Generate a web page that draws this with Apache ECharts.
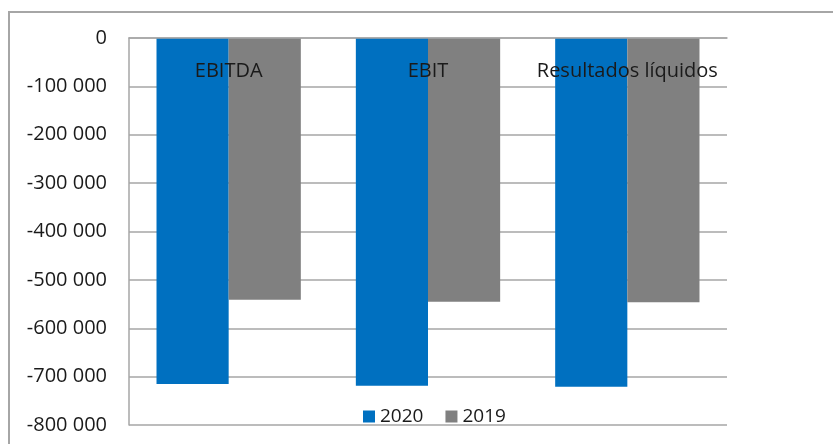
<!DOCTYPE html>
<html>
<head>
<meta charset="utf-8">
<script src="https://cdn.jsdelivr.net/npm/echarts@6/dist/echarts.min.js"></script>
<style>
  html, body { margin: 0; padding: 0; background: #ffffff; }
  #chart { width: 833px; height: 444px; }
</style>
</head>
<body>
<div id="chart"></div>
<script>
// Indicators and values per year
const categories = ['EBITDA', 'EBIT', 'Resultados líquidos'];
const values2020 = [-715000, -719000, -721000];
const values2019 = [-541000, -545000, -546000];
const seriesNames = ['2020', '2019'];

const FONT = 'Open Sans';
const GRID_COLOR = '#a6a6a6';

const chart = echarts.init(document.getElementById('chart'), null, { renderer: 'canvas' });

function fmt(v) {
  const s = Math.abs(v).toString().replace(/\B(?=(\d{3})+(?!\d))/g, ' ');
  return (v < 0 ? '-' : '') + s;
}

chart.setOption({
  animation: false,
  backgroundColor: '#ffffff',
  graphic: [{
    type: 'rect',
    shape: { x: 9, y: 12, width: 900, height: 500 },
    style: { fill: 'none', stroke: '#a6a6a6', lineWidth: 2 },
    silent: true,
    z: -1
  }],
  grid: { left: 129, right: 106, top: 38, bottom: 19 },
  legend: {
    data: seriesNames,
    left: 358,
    top: 402,
    itemWidth: 12,
    itemHeight: 12,
    itemGap: 22,
    icon: 'rect',
    textStyle: { fontFamily: FONT, fontSize: 19, color: '#1a1a1a' }
  },
  xAxis: {
    type: 'category',
    data: categories,
    position: 'top',
    z: 5,
    axisLine: { show: true, lineStyle: { color: GRID_COLOR, width: 1.5 } },
    axisTick: { show: false },
    axisLabel: {
      inside: true,
      interval: 0,
      margin: 23,
      fontFamily: FONT,
      fontSize: 20,
      color: '#1a1a1a'
    },
    splitLine: { show: false }
  },
  yAxis: {
    type: 'value',
    min: -800000,
    max: 0,
    interval: 100000,
    axisLine: { show: true, lineStyle: { color: GRID_COLOR, width: 1.5 } },
    axisTick: { show: false },
    axisLabel: {
      margin: 22,
      fontFamily: FONT,
      fontSize: 20,
      color: '#1a1a1a',
      formatter: fmt
    },
    splitLine: { show: true, lineStyle: { color: GRID_COLOR, width: 1.5 } }
  },
  series: [
    {
      name: seriesNames[0],
      type: 'bar',
      data: values2020,
      barGap: '0%',
      barCategoryGap: '27.6%',
      itemStyle: { color: '#0070c0' }
    },
    {
      name: seriesNames[1],
      type: 'bar',
      data: values2019,
      barGap: '0%',
      barCategoryGap: '27.6%',
      itemStyle: { color: '#808080' }
    }
  ]
});
</script>
</body>
</html>
